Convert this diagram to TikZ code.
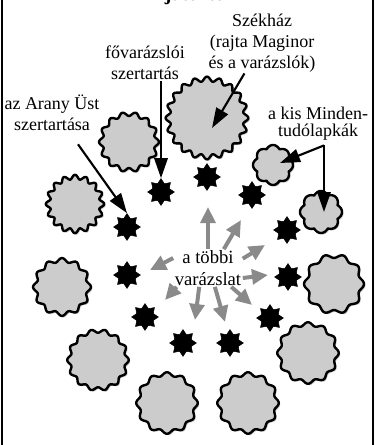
\documentclass[tikz,border=0pt]{standalone}
\usepackage{fontspec}
\setmainfont{Liberation Serif}
\usepackage{tikz}
\usetikzlibrary{arrows.meta,positioning,calc,shapes.geometric}
\definecolor{fortgray}{HTML}{CCCCCC}
\definecolor{restgray}{HTML}{8A8A8A}
\tikzset{
  lbl/.style={align=center,font=\fontsize{13.5}{15.5}\selectfont,inner sep=1pt},
  magestar/.style={star,star points=8,star point ratio=1.5,fill=black,draw=black,inner sep=0pt,minimum size=20pt},
  fortline/.style={draw=black,line width=1.8pt,fill=fortgray,line join=round},
  fortshade/.style={fill=black!22},
  annarrow/.style={-{Triangle[length=15pt,width=10pt]},line width=1.6pt},
  restarrow/.style={-{Triangle[length=12pt,width=11pt]},line width=3pt,restgray},
}
% name, x, y, radius, waves, depth
\newcommand{\fortress}[6]{%
  \coordinate (#1) at (#2,#3);
  \fill[fortshade,shift={(#2+1.5,#3+1.5)}]
    plot[domain=0:360,samples=361] (\x:{#4*(1+#6*cos(#5*\x))}) -- cycle;
  \draw[fortline,shift={(#2,#3)}]
    plot[domain=0:360,samples=361] (\x:{#4*(1+#6*cos(#5*\x))}) -- cycle;
}
% name, x, y, radius, lobes, depth
\newcommand{\cardfort}[6]{%
  \coordinate (#1) at (#2,#3);
  \fill[fortshade,shift={(#2+1.5,#3+1.5)}]
    plot[domain=0:360,samples=361] (\x:{#4*(1-#6+#6*abs(cos(#5*\x/2)))}) -- cycle;
  \draw[fortline,shift={(#2,#3)}]
    plot[domain=0:360,samples=361] (\x:{#4*(1-#6+#6*abs(cos(#5*\x/2)))}) -- cycle;
}

\begin{document}
\begin{tikzpicture}[x=0.75pt,y=-0.75pt]
  \useasboundingbox (0,0) rectangle (375,445);
  \draw[line width=0.8pt] (2,0) -- (2,445);
  \draw[line width=0.8pt] (373,0) -- (373,445);
  \node[font=\bfseries\fontsize{15}{15}\selectfont,anchor=base] (ttl) at (189,1) {A játéktér};

  % fortresses
  \fortress{bSzek}{207}{118}{39}{20}{0.06}
  \fortress{bNW}{129}{142}{28}{14}{0.07}
  \cardfort{bMind1}{273}{165}{20}{8}{0.15}
  \cardfort{bMind2}{321}{212}{21}{8}{0.15}
  \fortress{bW1}{75}{204}{27}{16}{0.08}
  \fortress{bW2}{62}{287}{27}{12}{0.07}
  \fortress{bE}{334}{284}{28}{10}{0.07}
  \fortress{bSW}{98}{360}{29}{14}{0.06}
  \fortress{bSE}{308}{353}{29}{12}{0.06}
  \fortress{bS1}{167}{403}{29}{12}{0.06}
  \fortress{bS2}{248}{403}{29}{12}{0.06}

  % spell places
  \node[magestar] (sFo) at (161,192) {};
  \node[magestar] (sN) at (207,177) {};
  \node[magestar] (sNE) at (252,195) {};
  \node[magestar] (sArany) at (127,227) {};
  \node[magestar] (sE) at (287,230) {};
  \node[magestar] (sW) at (127,275) {};
  \node[magestar] (sE2) at (288,277) {};
  \node[magestar] (sSW) at (145,317) {};
  \node[magestar] (sSE) at (270,318) {};
  \node[magestar] (sS1) at (183,343) {};
  \node[magestar] (sS2) at (230,343) {};

  % labels
  \node[lbl] (lSzek) at (262,43) {Székház\\(rajta Maginor\\és a varázslók)};
  \node[lbl] (lFo) at (145,63) {fővarázslói\\szertartás};
  \node[lbl] (lArany) at (52,113) {az Arany Üst\\szertartása};
  \node[lbl,font=\fontsize{13.5}{13}\selectfont] (lMind) at (318,124) {a kis Minden-\\tudólapkák};
  \node[lbl,font=\fontsize{14}{16}\selectfont] (lRest) at (208,268) {a többi\\varázslat};

  \draw[annarrow] (lFo.south -| sFo) -- (sFo.north);
  \draw[annarrow] (lSzek.240) -- ($(bSzek)+(5,10)$);
  \draw[annarrow] ($(lArany.south)+(26,12)$) -- (sArany.north);
  \coordinate (mindFrom) at ($(lMind.south)+(6,3)$);
  \draw[annarrow] (mindFrom) -- ($(bMind1)+(7,-2)$);
  \draw[annarrow] (mindFrom) -- (mindFrom |- bMind2);

  % the other spells
  \coordinate (r1) at (208,207);
  \coordinate (r2) at (241,220);
  \coordinate (r3) at (265,245);
  \coordinate (r4) at (268,275);
  \coordinate (r5) at (252,305);
  \coordinate (r6) at (225,322);
  \coordinate (r7) at (195,320);
  \coordinate (r8) at (165,300);
  \coordinate (r9) at (150,270);
  \draw[restarrow] (lRest.90) -- (r1);
  \draw[restarrow] (lRest.50) -- (r2);
  \draw[restarrow] (lRest.15) -- (r3);
  \draw[restarrow] (lRest.-16) -- (r4);
  \draw[restarrow] (lRest.-39) -- (r5);
  \draw[restarrow] (lRest.-70) -- (r6);
  \draw[restarrow] (lRest.-115) -- (r7);
  \draw[restarrow] (lRest.-149) -- (r8);
  \draw[restarrow] (lRest.164) -- (r9);
\end{tikzpicture}
\end{document}
